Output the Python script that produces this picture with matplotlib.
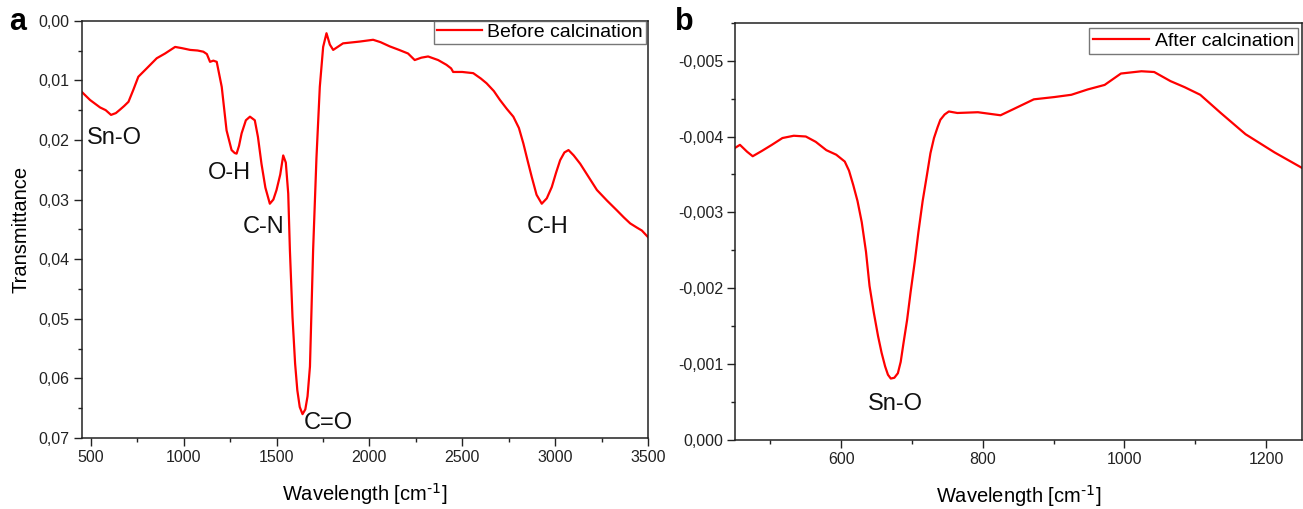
import matplotlib
matplotlib.use("Agg")
import matplotlib.pyplot as plt
from matplotlib.ticker import MultipleLocator, FuncFormatter

plt.rcParams['font.family'] = ['Liberation Sans', 'DejaVu Sans']

# ---------------- data ----------------
before_wn = [450, 496, 550, 580, 609, 635, 658, 680, 703, 729, 756, 801, 855, 900, 954,
             990, 1035, 1075, 1106, 1125, 1142, 1160, 1178, 1205, 1231, 1258, 1275, 1285,
             1298, 1312, 1335, 1357, 1383, 1400, 1419, 1440, 1464, 1483, 1500, 1520, 1536,
             1550, 1563, 1572, 1586, 1600, 1612, 1625, 1640, 1655, 1667, 1680, 1697, 1715,
             1733, 1751, 1769, 1787, 1805, 1858, 1948, 2020, 2060, 2109, 2160, 2208, 2244,
             2280, 2316, 2370, 2415, 2440, 2451, 2500, 2559, 2600, 2631, 2670, 2703, 2740,
             2775, 2805, 2829, 2852, 2874, 2900, 2928, 2955, 2982, 3005, 3027, 3050, 3072,
             3100, 3135, 3180, 3225, 3280, 3332, 3370, 3404, 3440, 3467, 3500]
before_t = [0.0119, 0.0133, 0.01455, 0.0150, 0.0158, 0.0155, 0.0149, 0.0143, 0.0136,
            0.0116, 0.0094, 0.0080, 0.0063, 0.0055, 0.0044, 0.0046, 0.0049, 0.0050, 0.0052,
            0.0056, 0.0069, 0.0067, 0.0069, 0.0111, 0.0184, 0.0217, 0.0222, 0.0223, 0.0210,
            0.0189, 0.0167, 0.0161, 0.0167, 0.0195, 0.0240, 0.0280, 0.0307, 0.0300, 0.0284,
            0.0258, 0.0226, 0.0238, 0.0290, 0.0385, 0.0497, 0.0575, 0.0620, 0.0648, 0.0660,
            0.0652, 0.0630, 0.0580, 0.0385, 0.0230, 0.0111, 0.0044, 0.0021, 0.0040, 0.0049,
            0.0038, 0.0035, 0.0032, 0.0036, 0.0043, 0.0049, 0.0055, 0.0066, 0.0062, 0.0060,
            0.0066, 0.0074, 0.0080, 0.0086, 0.0086, 0.0088, 0.0097, 0.0105, 0.0118, 0.0133,
            0.0148, 0.0161, 0.0180, 0.0206, 0.0235, 0.0262, 0.0292, 0.0307, 0.0298, 0.0279,
            0.0255, 0.0234, 0.0221, 0.0217, 0.0226, 0.0240, 0.0262, 0.0284, 0.0302, 0.0318,
            0.0330, 0.0340, 0.0347, 0.0352, 0.0363]

after_wn = [450, 457, 467, 475, 488, 502, 517, 533, 550, 564, 579, 593, 605, 611, 617,
            623, 629, 635, 640, 646, 652, 657, 662, 666, 670, 675, 680, 684, 688, 693,
            698, 704, 709, 715, 721, 726, 731, 736, 740, 746, 752, 764, 793, 825, 843,
            872, 901, 925, 948, 972, 995, 1024, 1042, 1065, 1085, 1107, 1136, 1171, 1212,
            1250]
after_t = [-0.00385, -0.00389, -0.00380, -0.00374, -0.00381, -0.00389, -0.00398, -0.00401,
           -0.00400, -0.00393, -0.00382, -0.00376, -0.00367, -0.00355, -0.00336, -0.00315,
           -0.00287, -0.00248, -0.00203, -0.00168, -0.00137, -0.00115, -0.00097, -0.00086,
           -0.00081, -0.00082, -0.00088, -0.00103, -0.00128, -0.00158, -0.00195, -0.00236,
           -0.00274, -0.00315, -0.00349, -0.00378, -0.00398, -0.00412, -0.00422, -0.00429,
           -0.00433, -0.00431, -0.00432, -0.00428, -0.00436, -0.00449, -0.00452, -0.00455,
           -0.00462, -0.00468, -0.00483, -0.00486, -0.00485, -0.00473, -0.00465, -0.00455,
           -0.00431, -0.00403, -0.00379, -0.00359]

ann_before_labels = ["Sn-O", "O-H", "C-N", "C=O", "C-H"]
ann_before_x = [479, 1247, 1428, 1648, 2960]
ann_before_y = [0.0197, 0.0256, 0.0346, 0.0674, 0.0346]
ann_before_ha = ["left", "center", "center", "left", "center"]

ann_after_labels = ["Sn-O"]
ann_after_x = [676]
ann_after_y = [-0.00048]

W, H = 1303, 509
fig = plt.figure(figsize=(W / 100, H / 100), dpi=100)

def px_axes(x0, x1, ytop, ybot):
    return fig.add_axes([x0 / W, 1 - ybot / H, (x1 - x0) / W, (ybot - ytop) / H])

axA = px_axes(81.5, 648, 20.7, 438)
axB = px_axes(735, 1301.5, 22.7, 440)

red = '#ff0000'
tick_fs = 11.5
label_fs = 14.5
xlabel_text = 'Wavelength [cm$^{\\text{-1}}$]'

def style(ax):
    for s in ax.spines.values():
        s.set_linewidth(1.1)
        s.set_color('#222222')
    ax.tick_params(which='major', direction='out', length=6, width=1.0,
                   labelsize=tick_fs, pad=2.5, top=False, right=False, colors='#222222')
    ax.tick_params(which='minor', direction='out', length=3, width=1.0,
                   top=False, right=False, colors='#222222')

# ---------- panel a ----------
axA.plot(before_wn, before_t, color=red, lw=1.6, label='Before calcination')
axA.set_xlim(450, 3500)
axA.set_ylim(0.07, 0.0)
axA.xaxis.set_major_locator(MultipleLocator(500))
axA.xaxis.set_minor_locator(MultipleLocator(250))
axA.yaxis.set_major_locator(MultipleLocator(0.01))
axA.yaxis.set_minor_locator(MultipleLocator(0.005))
axA.yaxis.set_major_formatter(FuncFormatter(lambda v, p: ("0.00" if abs(v) < 1e-9 else "%.2f" % v).replace('.', ',')))
style(axA)
axA.set_xlabel(xlabel_text, fontsize=label_fs, labelpad=12)
axA.set_ylabel('Transmittance', fontsize=label_fs, labelpad=6)
for lab, x, y, ha in zip(ann_before_labels, ann_before_x, ann_before_y, ann_before_ha):
    axA.text(x, y, lab, fontsize=17, ha=ha, va='center', color='#111111')
legA = axA.legend(loc='upper right', bbox_to_anchor=(0.9965, 1.0), borderaxespad=0,
                  fontsize=14, frameon=True, fancybox=False, handlelength=2.3,
                  handletextpad=0.3, borderpad=0.15)
legA.get_frame().set_edgecolor('#555555')
legA.get_frame().set_linewidth(1.0)

# ---------- panel b ----------
axB.plot(after_wn, after_t, color=red, lw=1.6, label='After calcination')
axB.set_xlim(450, 1250)
axB.set_ylim(0.0, -0.0055)
axB.xaxis.set_major_locator(MultipleLocator(200))
axB.xaxis.set_minor_locator(MultipleLocator(100))
axB.yaxis.set_major_locator(MultipleLocator(0.001))
axB.yaxis.set_minor_locator(MultipleLocator(0.0005))
axB.yaxis.set_major_formatter(FuncFormatter(lambda v, p: ("0.000" if abs(v) < 1e-9 else "%.3f" % v).replace('.', ',')))
style(axB)
axB.set_xlabel(xlabel_text, fontsize=label_fs, labelpad=12)
for lab, x, y in zip(ann_after_labels, ann_after_x, ann_after_y):
    axB.text(x, y, lab, fontsize=17, ha='center', va='center', color='#111111')
legB = axB.legend(loc='upper right', bbox_to_anchor=(0.9938, 0.987), borderaxespad=0,
                  fontsize=14, frameon=True, fancybox=False, handlelength=2.9,
                  handletextpad=0.3, borderpad=0.2)
legB.get_frame().set_edgecolor('#555555')
legB.get_frame().set_linewidth(1.0)

fig.text(17.5 / W, 1 - 22 / H, 'a', fontsize=22, fontweight='bold', ha='center', va='center')
fig.text(684 / W, 1 - 22 / H, 'b', fontsize=22, fontweight='bold', ha='center', va='center')

fig.savefig('out.png', dpi=100)
